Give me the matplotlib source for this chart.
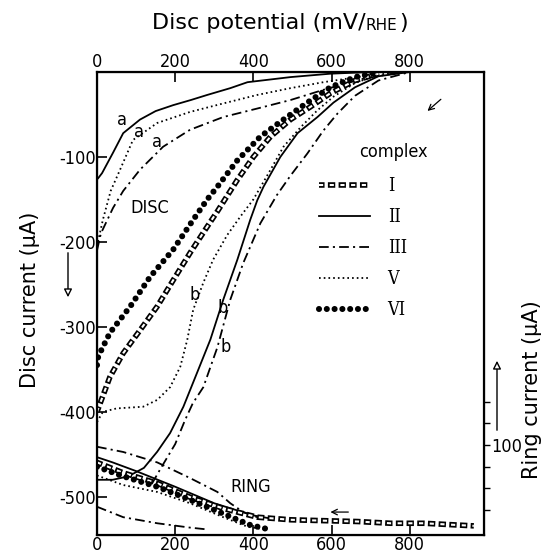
import matplotlib
matplotlib.use("Agg")
import matplotlib.pyplot as plt
from matplotlib.legend_handler import HandlerTuple
from matplotlib.lines import Line2D

plt.rcParams['font.family'] = ['DejaVu Sans']
plt.rcParams['font.stretch'] = 'condensed'
plt.rcParams['axes.unicode_minus'] = False
plt.rcParams['lines.scale_dashes'] = False

# ── DATA (potential in mV/RHE, current in µA) ────────────────────────────────

# disc currents, branch "a"
II_a_x = [3, 13, 41, 67, 110, 150, 195, 240, 282, 341, 385, 440, 495, 597, 700, 800]
II_a_y = [-125, -119, -95, -72, -56, -46, -39, -33, -27, -19, -12, -9, -6, -2, 0, 0]
V_a_x = [0, 15, 35, 59, 92, 154, 238, 323, 410, 495, 579, 680, 780]
V_a_y = [-205, -174, -140, -115, -80, -60, -47, -37, -27, -19, -12, -5, 0]
III_a_x = [0, 10, 41, 67, 110, 169, 238, 323, 410, 495, 579, 680, 780]
III_a_y = [-210, -190, -160, -140, -115, -88, -68, -53, -43, -33, -21, -8, 0]

# disc currents, complexes I and VI
I_x = [0, 33, 67, 110, 154, 195, 238, 282, 308, 359, 400, 444, 495, 546, 597, 660, 720]
I_y = [-400, -359, -331, -304, -276, -245, -213, -182, -164, -127, -100, -76, -56, -41, -25, -10, -2]
VI_x = [0, 3, 33, 85, 136, 195, 246, 282, 308, 359, 418, 477, 538, 597, 660, 720]
VI_y = [-345, -335, -307, -276, -241, -209, -174, -150, -135, -104, -76, -56, -36, -18, -6, 0]

# disc currents, branch "b"
V_b_x = [0, 15, 50, 118, 154, 187, 213, 231, 246, 272, 297, 333, 367, 400, 444, 477, 521, 564, 605, 660, 720]
V_b_y = [-412, -400, -396, -394, -386, -371, -347, -315, -280, -248, -221, -192, -170, -150, -115, -88, -65, -45, -29, -13, -3]
II_b_x = [0, 40, 80, 120, 154, 187, 221, 256, 290, 323, 359, 392, 410, 426, 469, 513, 564, 605, 660, 720, 800]
II_b_y = [-480, -480, -476, -466, -447, -425, -394, -354, -315, -268, -221, -174, -151, -135, -100, -72, -53, -36, -18, -5, 0]
III_b_x = [140, 165, 200, 225, 245, 272, 308, 341, 374, 418, 460, 495, 538, 579, 615, 660, 720, 800]
III_b_y = [-485, -465, -438, -410, -390, -371, -324, -268, -225, -178, -145, -122, -96, -69, -49, -28, -10, 0]

# ring currents
ring_III_up_x = [0, 67, 154, 238, 308, 341, 374, 410]
ring_III_up_y = [98, 92, 80, 62, 46, 33, 23, 17]
ring_I_x = [0, 67, 154, 238, 323, 410, 495, 579, 667, 751, 836, 964]
ring_I_y = [80, 68, 56, 40, 27, 17, 14, 13, 12, 10, 10, 7]
ring_II_x = [0, 40, 100, 200, 300, 400, 450]
ring_II_y = [86, 80, 70, 52, 33, 19, 15]
ring_VI_x = [0, 67, 154, 238, 323, 392, 430]
ring_VI_y = [75, 64, 52, 37, 21, 8, 4]
ring_V_x = [0, 67, 154, 238, 323, 385, 427]
ring_V_y = [65, 54, 46, 33, 17, 6, 3]
ring_III_lo_x = [0, 67, 154, 238, 280]
ring_III_lo_y = [29, 17, 10, 5, 3]

x_ticks = [0, 200, 400, 600, 800]
disc_ticks = [-100, -200, -300, -400, -500]
ring_ticks = [25, 50, 75, 100, 125, 150]
legend_labels = ['I', 'II', 'III', 'V', 'VI']

# ── STYLES ────────────────────────────────────────────────────────────────────

sty = {
    'II':  dict(color='black', lw=1.3, ls='-'),
    'III': dict(color='black', lw=1.3, ls=(0, (7, 3, 1.5, 3))),
    'V':   dict(color='black', lw=1.3, ls=(0, (1.2, 2.2))),
    'VI':  dict(color='black', lw=4.4, ls=(0, (0.01, 5.6)), dash_capstyle='round'),
}
# hollow rectangles: thick black dashes with a thinner white dash centred in each
I_outer = dict(color='black', lw=4.0, ls=(0, (4.0, 2.4, 1.3, 0.001)), dash_capstyle='butt')
I_inner = dict(color='white', lw=1.5, ls=(0, (3.0, 4.7)), dash_capstyle='butt')


def plot_I(a, x, y):
    a.plot(x, y, **I_outer)
    a.plot(x, y, **I_inner)


# ── FIGURE ────────────────────────────────────────────────────────────────────

W, H = 547, 554
fig = plt.figure(figsize=(W / 100, H / 100), dpi=100)
ax = fig.add_axes([97 / W, (H - 535) / H, (484 - 97) / W, (535 - 72) / H])
ax2 = ax.twinx()

# disc
ax.plot(II_a_x, II_a_y, **sty['II'])
ax.plot(V_a_x, V_a_y, **sty['V'])
ax.plot(III_a_x, III_a_y, **sty['III'])
plot_I(ax, I_x, I_y)
ax.plot(VI_x, VI_y, **sty['VI'])
ax.plot(V_b_x, V_b_y, **sty['V'])
ax.plot(II_b_x, II_b_y, **sty['II'])
ax.plot(III_b_x, III_b_y, **sty['III'])

# ring
ax2.plot(ring_III_up_x, ring_III_up_y, **sty['III'])
ax2.plot(ring_II_x, ring_II_y, **sty['II'])
plot_I(ax2, ring_I_x, ring_I_y)
ax2.plot(ring_VI_x, ring_VI_y, **sty['VI'])
ax2.plot(ring_V_x, ring_V_y, **sty['V'])
ax2.plot(ring_III_lo_x, ring_III_lo_y, **sty['III'])

ax.set_xlim(0, 990)
ax.set_ylim(-545, 0)
ax2.set_ylim(-3.5, 529)

for sp in ax.spines.values():
    sp.set_linewidth(1.6)

ax.set_xticks(x_ticks)
ax.set_yticks(disc_ticks)
ax.tick_params(axis='x', which='both', top=True, labeltop=True, bottom=True, labelbottom=True,
               direction='in', length=7, width=1.2, pad=1, labelsize=13)
ax.tick_params(axis='y', direction='in', length=7, width=1.2, pad=1, labelsize=13)
ax2.set_yticks(ring_ticks)
ax2.set_yticklabels(['100' if t == 100 else '' for t in ring_ticks])
ax2.tick_params(axis='y', direction='out', length=4, width=1.0, pad=1, labelsize=13)

# axis titles
fig.text(30 / W, 1 - 300 / H, 'Disc current (µA)', rotation=90, ha='center', va='center',
         fontsize=15, fontstretch='normal')
fig.text(532 / W, 1 - 390 / H, 'Ring current (µA)', rotation=90, ha='center', va='center',
         fontsize=15, fontstretch='normal')
t1 = fig.text(152 / W, 1 - 23 / H, 'Disc potential (mV/', ha='left', va='center',
              fontsize=16, fontstretch='normal')
fig.canvas.draw()
bb = t1.get_window_extent()
t2 = fig.text(bb.x1 / W, 1 - 25 / H, 'RHE', ha='left', va='center', fontsize=11, fontstretch='normal')
bb2 = t2.get_window_extent()
fig.text(bb2.x1 / W + 0.003, 1 - 23 / H, ')', ha='left', va='center', fontsize=16, fontstretch='normal')

# in-plot annotations
txt = dict(fontsize=13, ha='center', va='center')
ax.text(136, -160, 'DISC', **txt)
ax.text(392, -488, 'RING', **txt)
for (xx, yy) in [(64, -56), (108, -71), (154, -82)]:
    ax.text(xx, yy, 'a', **txt)
for (xx, yy) in [(251, -262), (321, -278), (328, -324)]:
    ax.text(xx, yy, 'b', **txt)

# arrows
ax.annotate('', xy=(590, -518), xytext=(650, -518),
            arrowprops=dict(arrowstyle='->', lw=0.9, color='black'))
ax.annotate('', xy=(840, -48), xytext=(885, -30),
            arrowprops=dict(arrowstyle='->', lw=0.9, color='black'))
ax.annotate('', xy=(68, H - 300), xytext=(68, H - 250), xycoords='figure pixels',
            textcoords='figure pixels',
            arrowprops=dict(arrowstyle='-|>', lw=1.0, fc='white', ec='black', mutation_scale=12))
ax.annotate('', xy=(497, H - 358), xytext=(497, H - 433), xycoords='figure pixels',
            textcoords='figure pixels',
            arrowprops=dict(arrowstyle='-|>', lw=1.0, fc='white', ec='black', mutation_scale=12))

# legend
fig.text(393 / W, 1 - 152 / H, 'complex', ha='center', va='center', fontsize=13)
handles = [
    (Line2D([], [], **I_outer), Line2D([], [], **I_inner)),
    Line2D([], [], **sty['II']),
    Line2D([], [], **sty['III']),
    Line2D([], [], **sty['V']),
    Line2D([], [], **sty['VI']),
]
ax.legend(handles, legend_labels, handler_map={tuple: HandlerTuple(ndivide=1, pad=0)},
          loc='upper left', bbox_to_anchor=(310 / W, 1 - 168 / H), bbox_transform=fig.transFigure,
          frameon=False, borderpad=0, handlelength=2.8, handletextpad=1.0, labelspacing=0.72,
          prop=dict(family='DejaVu Serif', size=13))

fig.savefig('out.png', dpi=100)
